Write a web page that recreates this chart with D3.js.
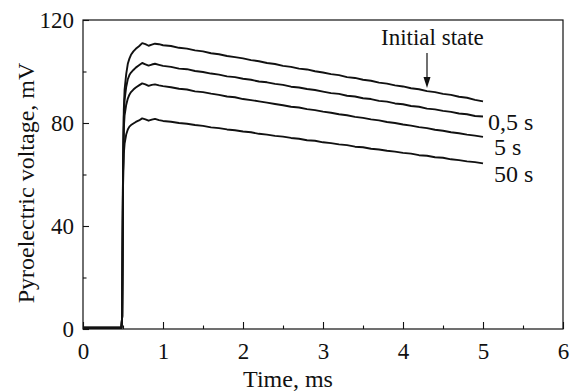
<!DOCTYPE html>
<html>
<head>
<meta charset="utf-8">
<script src="https://cdn.jsdelivr.net/npm/d3@7"></script>
<style>
  body { margin: 0; background: #fff; }
</style>
</head>
<body>
<svg id="chart" width="572" height="392"></svg>
<script>
// time axis, ms
const times = [0, 0.48, 0.49, 0.5, 0.51, 0.52, 0.54, 0.56, 0.58, 0.6, 0.63, 0.66, 0.7, 0.74, 0.78, 0.82, 0.86, 0.9, 0.95,
  1.0, 1.1, 1.2, 1.3, 1.4, 1.5, 1.6, 1.7, 1.8, 1.9, 2.0, 2.1, 2.2, 2.3, 2.4, 2.5, 2.6, 2.7, 2.8, 2.9,
  3.0, 3.1, 3.2, 3.3, 3.4, 3.5, 3.6, 3.7, 3.8, 3.9, 4.0, 4.1, 4.2, 4.3, 4.4, 4.5, 4.6, 4.7, 4.8, 4.9, 5.0];

// pyroelectric voltage, mV
const initialState = [0.5, 0.5, 5, 60, 85, 93, 99, 103, 105, 106.5, 107.8, 108.8, 109.8, 111, 110.6, 110, 110.4, 110.8, 110.6,
  110.2, 109.9, 109.2, 108.9, 108.2, 107.8, 107.1, 106.7, 106.0, 105.6, 105.1, 104.4, 104.0, 103.3, 102.9, 102.2, 101.8, 101.1, 100.8, 100.1,
  99.6, 99.0, 98.6, 97.8, 97.5, 96.8, 96.4, 95.7, 95.3, 94.6, 94.2, 93.5, 93.1, 92.4, 92.0, 91.3, 90.9, 90.2, 89.8, 89.0, 88.4];
const after05s = [0.5, 0.5, 5, 60, 82, 89, 94, 97, 98.6, 99.6, 100.6, 101.5, 102.4, 103.3, 102.8, 102.3, 102.7, 103, 102.6,
  102.2, 101.8, 101.1, 100.9, 100.2, 99.8, 99.2, 98.8, 98.1, 97.8, 97.2, 96.8, 96.1, 95.8, 95.2, 94.8, 94.1, 93.8, 93.2, 92.8,
  92.2, 91.6, 91.3, 90.6, 90.3, 89.6, 89.3, 88.6, 88.3, 87.6, 87.3, 86.6, 86.3, 85.6, 85.3, 84.7, 84.3, 83.7, 83.4, 82.7, 82.5];
const after5s = [0.5, 0.5, 5, 60, 78, 83, 87, 89.5, 91, 92, 93, 93.8, 94.6, 95.4, 95, 94.4, 94.8, 95, 94.6,
  94.3, 93.9, 93.3, 93.0, 92.3, 92.0, 91.4, 90.9, 90.3, 90.0, 89.3, 88.9, 88.4, 87.9, 87.4, 86.9, 86.3, 86.0, 85.4, 85.0,
  84.4, 84.0, 83.4, 83.0, 82.4, 82.0, 81.4, 81.0, 80.4, 80.0, 79.4, 79.0, 78.4, 78.0, 77.4, 77.0, 76.4, 76.0, 75.5, 75.1, 74.6];
const after50s = [0.5, 0.5, 5, 55, 68, 72, 75.5, 77.5, 78.6, 79.2, 79.8, 80.4, 81, 81.8, 81.4, 80.9, 81.3, 81.6, 81.1,
  80.8, 80.5, 80.0, 79.7, 79.2, 78.9, 78.3, 78.0, 77.5, 77.2, 76.7, 76.4, 75.8, 75.5, 75.0, 74.7, 74.2, 73.9, 73.3, 73.1,
  72.5, 72.2, 71.7, 71.4, 70.8, 70.6, 70.0, 69.7, 69.2, 68.9, 68.4, 68.1, 67.5, 67.3, 66.7, 66.5, 65.9, 65.6, 65.1, 64.8, 64.3];

const seriesNames = ["Initial state", "0,5 s", "5 s", "50 s"];
const seriesValues = [initialState, after05s, after5s, after50s];

const xMajorTicks = [0, 1, 2, 3, 4, 5, 6];
const xMinorTicks = [0.5, 1.5, 2.5, 3.5, 4.5, 5.5];
const yMajorTicks = [0, 40, 80, 120];
const yMinorTicks = [20, 60, 100];

const serif = '"Liberation Serif"';

const svg = d3.select("#chart");
const margin = { top: 20, right: 9, bottom: 63, left: 83 };
const width = 572 - margin.left - margin.right;
const height = 392 - margin.top - margin.bottom;

const x = d3.scaleLinear().domain([0, 6]).range([0, width]);
const y = d3.scaleLinear().domain([0, 120]).range([height, 0]);

const g = svg.append("g").attr("transform", `translate(${margin.left},${margin.top})`);

// frame
g.append("rect")
  .attr("width", width).attr("height", height)
  .attr("fill", "none").attr("stroke", "#111").attr("stroke-width", 1.2);

// x axis, ticks pointing inward
const xAxis = g.append("g").attr("transform", `translate(0,${height})`);
xAxis.call(d3.axisBottom(x).tickValues(xMajorTicks).tickSize(-7).tickPadding(14).tickFormat(d3.format("d")));
xAxis.append("g").call(d3.axisBottom(x).tickValues(xMinorTicks).tickSize(-3.5).tickFormat(""));

const yAxis = g.append("g");
yAxis.call(d3.axisLeft(y).tickValues(yMajorTicks).tickSize(-6).tickPadding(9).tickFormat(d3.format("d")));
yAxis.append("g").call(d3.axisLeft(y).tickValues(yMinorTicks).tickSize(-3.5).tickFormat(""));

svg.selectAll(".domain").remove();
svg.selectAll(".tick line").attr("stroke", "#111").attr("stroke-width", 1.1);
svg.selectAll(".tick text")
  .attr("fill", "#111")
  .style("font-family", serif)
  .style("font-size", "23px");

// curves
const line = d3.line()
  .x((d, i) => x(times[i]))
  .y(d => y(d));

g.selectAll(".curve")
  .data(seriesValues)
  .join("path")
  .attr("class", "curve")
  .attr("d", line)
  .attr("fill", "none")
  .attr("stroke", "#111")
  .attr("stroke-width", 1.9)
  .attr("stroke-linejoin", "round");

// curve labels
const labelPos = [null, [488, 130], [494, 155], [494, 182]];
seriesNames.forEach((name, i) => {
  if (i === 0) return;
  g.append("text")
    .attr("x", labelPos[i][0] - margin.left)
    .attr("y", labelPos[i][1] - margin.top)
    .style("font-family", serif)
    .style("font-size", "24px")
    .attr("fill", "#111")
    .text(name);
});

// "Initial state" with arrow
const arrowT = 4.3;
const arrowTipY = y(92.4) - 3;
g.append("text")
  .attr("x", 381 - margin.left)
  .attr("y", 45 - margin.top)
  .style("font-family", serif)
  .style("font-size", "23px")
  .attr("fill", "#111")
  .text(seriesNames[0]);
g.append("line")
  .attr("x1", x(arrowT)).attr("x2", x(arrowT))
  .attr("y1", 53 - margin.top).attr("y2", arrowTipY - 8)
  .attr("stroke", "#111").attr("stroke-width", 1.2);
g.append("path")
  .attr("d", `M${x(arrowT) - 3.5},${arrowTipY - 11} L${x(arrowT) + 3.5},${arrowTipY - 11} L${x(arrowT)},${arrowTipY} Z`)
  .attr("fill", "#111");

// axis titles
svg.append("text")
  .attr("x", 288)
  .attr("y", 387)
  .attr("text-anchor", "middle")
  .style("font-family", serif)
  .style("font-size", "24px")
  .attr("fill", "#111")
  .text("Time, ms");

svg.append("text")
  .attr("transform", `translate(34,${183}) rotate(-90)`)
  .attr("text-anchor", "middle")
  .style("font-family", serif)
  .style("font-size", "24px")
  .attr("fill", "#111")
  .text("Pyroelectric voltage, mV");
</script>
</body>
</html>
